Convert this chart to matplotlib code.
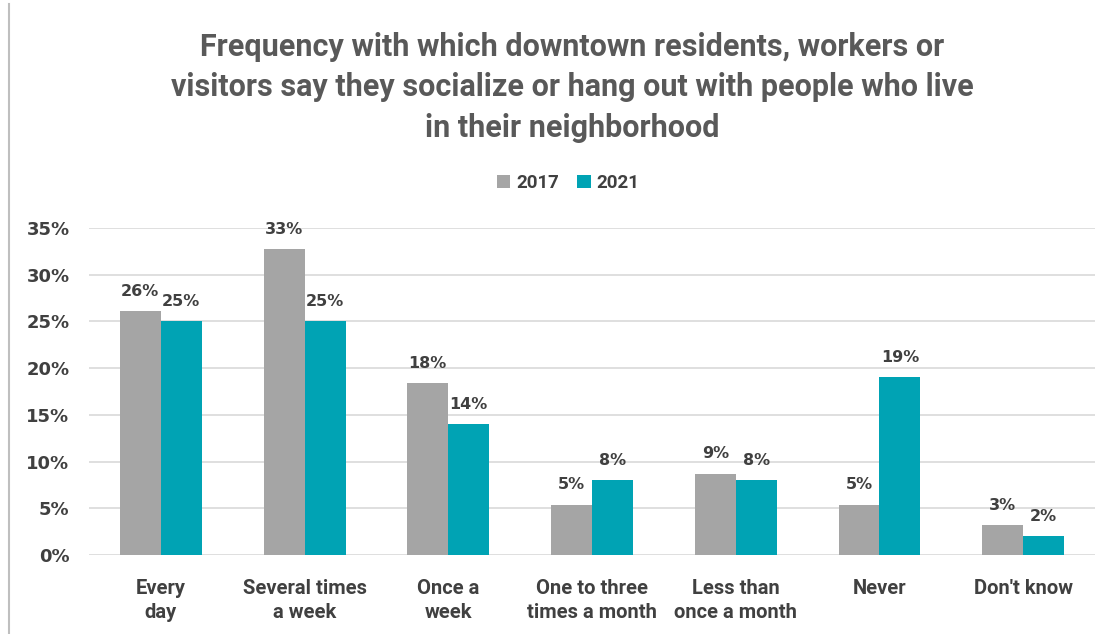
import matplotlib
matplotlib.use("Agg")
import matplotlib.pyplot as plt
from matplotlib.lines import Line2D
import numpy as np

categories = ["Every\nday", "Several times\na week", "Once a\nweek",
              "One to three\ntimes a month", "Less than\nonce a month",
              "Never", "Don't know"]
series_names = ["2017", "2021"]
values_2017 = [26.1, 32.7, 18.4, 5.4, 8.7, 5.4, 3.2]
values_2021 = [25.0, 25.0, 14.0, 8.0, 8.0, 19.0, 2.0]
y_ticks = [0, 5, 10, 15, 20, 25, 30, 35]

title = ("Frequency with which downtown residents, workers or\n"
         "visitors say they socialize or hang out with people who live\n"
         "in their neighborhood")

GRAY = "#A5A5A5"
TEAL = "#00A3B4"
TEXT = "#404040"
TITLE = "#595959"
FONT = "Roboto"
NUM_FONT = "DejaVu Sans"

fig = plt.figure(figsize=(11.01, 6.34), dpi=100)
ax = fig.add_axes([0.0808, 0.1246, 0.9138, 0.5158])

x = np.arange(len(categories))
w = 0.285
b1 = ax.bar(x - w / 2, values_2017, w, color=GRAY, label=series_names[0], zorder=3)
b2 = ax.bar(x + w / 2, values_2021, w, color=TEAL, label=series_names[1], zorder=3)

for bars, vals in ((b1, values_2017), (b2, values_2021)):
    for rect, v in zip(bars, vals):
        ax.annotate(f"{v:.0f}%", (rect.get_x() + rect.get_width() / 2, v),
                    xytext=(0, 9), textcoords="offset points",
                    ha="center", va="bottom", fontsize=11.5,
                    fontweight="bold", color=TEXT, family=NUM_FONT)

ax.set_ylim(0, 35)
ax.set_xlim(-0.5, len(categories) - 0.5)
ax.set_yticks(y_ticks)
ax.set_yticklabels([f"{t}%" for t in y_ticks])
ax.set_xticks(x)
ax.set_xticklabels(categories)
ax.yaxis.grid(True, color="#D9D9D9", linewidth=1.2, zorder=0)
ax.set_axisbelow(True)
for s in ax.spines.values():
    s.set_visible(False)
ax.tick_params(axis="both", length=0)
ax.tick_params(axis="y", pad=14)
ax.tick_params(axis="x", pad=17)
for lab in ax.get_yticklabels():
    lab.set_fontsize(13)
    lab.set_fontweight("bold")
    lab.set_color(TEXT)
    lab.set_family(NUM_FONT)
for lab in ax.get_xticklabels():
    lab.set_fontsize(14.5)
    lab.set_fontweight("bold")
    lab.set_color(TEXT)
    lab.set_family(FONT)
    lab.set_linespacing(1.38)

fig.text(0.52, 0.95, title, ha="center", va="top", fontsize=22,
         fontweight="bold", color=TITLE, family=FONT, linespacing=1.45)

leg = fig.legend(handles=[b1, b2], labels=series_names, loc="center",
                 bbox_to_anchor=(0.516, 0.711), ncol=2, frameon=False,
                 handlelength=0.7, handleheight=0.7, handletextpad=0.3,
                 columnspacing=1.0,
                 prop={"family": FONT, "weight": "bold", "size": 13.5})
for t in leg.get_texts():
    t.set_color(TEXT)

fig.add_artist(Line2D([0.0082, 0.0082], [0.0, 0.994], color="#BFBFBF",
                      linewidth=1.5, transform=fig.transFigure))

fig.savefig("out.png", dpi=100, facecolor="white")
